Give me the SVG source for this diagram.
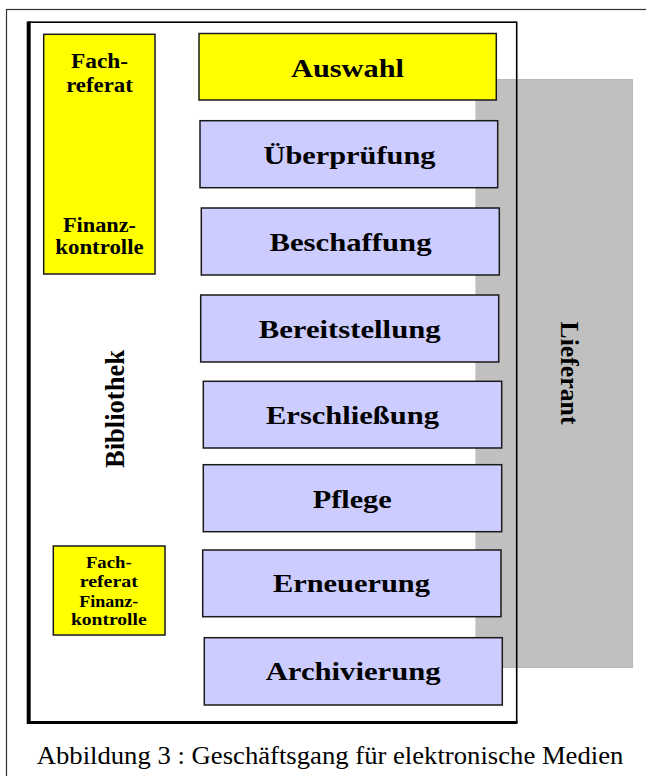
<svg xmlns="http://www.w3.org/2000/svg" width="646" height="776" viewBox="0 0 646 776">
<style>
.lbl{font-family:"Liberation Serif","Times New Roman",serif;font-weight:bold;fill:#000;text-anchor:middle}
.big{font-size:26px}
.mid{font-size:20px}
.sm{font-size:16.5px}
.step{fill:#CCCCFF;stroke:#1a1a1a;stroke-width:1.5}
.yel{fill:#FFFF00;stroke:#1a1a1a;stroke-width:1.5}
.cap{font-family:"Liberation Serif","Times New Roman",serif;font-size:25.5px;fill:#000}
</style>
<rect x="0" y="0" width="646" height="776" fill="#fff"/>
<g id="frame">
<rect x="6.5" y="9.5" width="660" height="800" fill="none" stroke="#333" stroke-width="1.2"/>
</g>
<g id="lieferant">
<rect x="476" y="79.5" width="156.5" height="588" fill="#C0C0C0" stroke="#B8B8B8" stroke-width="1"/>
<text class="lbl" transform="translate(561,373) rotate(90)" textLength="103" lengthAdjust="spacingAndGlyphs" style="font-size:25px">Lieferant</text>
</g>
<g id="bibliothek">
<rect x="28.5" y="22.2" width="488.2" height="700" fill="none" stroke="#000" stroke-width="1.6"/>
<line x1="28.7" y1="21.5" x2="28.7" y2="724" stroke="#000" stroke-width="4"/>
<line x1="27" y1="722.4" x2="517.5" y2="722.4" stroke="#000" stroke-width="3"/>
<text class="lbl" transform="translate(124,409) rotate(-90)" textLength="118" lengthAdjust="spacingAndGlyphs" style="font-size:28px">Bibliothek</text>
</g>
<g id="fachreferat-top">
<rect class="yel" x="43.7" y="34.3" width="111.3" height="239.7"/>
<text class="lbl mid" x="99.5" y="68.3" textLength="57" lengthAdjust="spacingAndGlyphs">Fach-</text>
<text class="lbl mid" x="99.5" y="91.7" textLength="66.7" lengthAdjust="spacingAndGlyphs">referat</text>
<text class="lbl mid" x="99.5" y="231.7" textLength="73" lengthAdjust="spacingAndGlyphs">Finanz-</text>
<text class="lbl mid" x="99.5" y="254" textLength="88.3" lengthAdjust="spacingAndGlyphs">kontrolle</text>
</g>
<g id="fachreferat-bottom">
<rect class="yel" x="53.3" y="546" width="111.7" height="89"/>
<text class="lbl sm" x="108.8" y="568.3" textLength="45.7" lengthAdjust="spacingAndGlyphs">Fach-</text>
<text class="lbl sm" x="108.8" y="586.5" textLength="58.3" lengthAdjust="spacingAndGlyphs">referat</text>
<text class="lbl sm" x="108.8" y="606.7" textLength="59" lengthAdjust="spacingAndGlyphs">Finanz-</text>
<text class="lbl sm" x="108.8" y="625" textLength="75.7" lengthAdjust="spacingAndGlyphs">kontrolle</text>
</g>
<g id="auswahl">
<rect class="yel" x="199" y="33.5" width="297.3" height="66.5"/>
<text class="lbl big" x="347.5" y="77.3" textLength="113" lengthAdjust="spacingAndGlyphs">Auswahl</text>
</g>
<g id="ueberpruefung">
<rect class="step" x="200" y="120.7" width="297.7" height="67"/>
<text class="lbl big" x="349.5" y="164" textLength="172" lengthAdjust="spacingAndGlyphs">Überprüfung</text>
</g>
<g id="beschaffung">
<rect class="step" x="201.3" y="208" width="298" height="67"/>
<text class="lbl big" x="350.5" y="250.7" textLength="162" lengthAdjust="spacingAndGlyphs">Beschaffung</text>
</g>
<g id="bereitstellung">
<rect class="step" x="200.7" y="295" width="298" height="67"/>
<text class="lbl big" x="349.7" y="338.3" textLength="182" lengthAdjust="spacingAndGlyphs">Bereitstellung</text>
</g>
<g id="erschliessung">
<rect class="step" x="203.3" y="381.3" width="298.4" height="66.7"/>
<text class="lbl big" x="352.5" y="424" textLength="173" lengthAdjust="spacingAndGlyphs">Erschließung</text>
</g>
<g id="pflege">
<rect class="step" x="203.3" y="464.7" width="298.4" height="67"/>
<text class="lbl big" x="352.2" y="507.7" textLength="79" lengthAdjust="spacingAndGlyphs">Pflege</text>
</g>
<g id="erneuerung">
<rect class="step" x="202.7" y="550" width="298.3" height="66.7"/>
<text class="lbl big" x="351.4" y="592.3" textLength="157" lengthAdjust="spacingAndGlyphs">Erneuerung</text>
</g>
<g id="archivierung">
<rect class="step" x="204.3" y="637.7" width="298" height="67.3"/>
<text class="lbl big" x="353.2" y="680" textLength="175" lengthAdjust="spacingAndGlyphs">Archivierung</text>
</g>
<g id="connectors"></g>
<g id="caption">
<text class="cap" x="36.7" y="764.3" textLength="586.7" lengthAdjust="spacingAndGlyphs">Abbildung 3 : Geschäftsgang für elektronische Medien</text>
</g>
</svg>
